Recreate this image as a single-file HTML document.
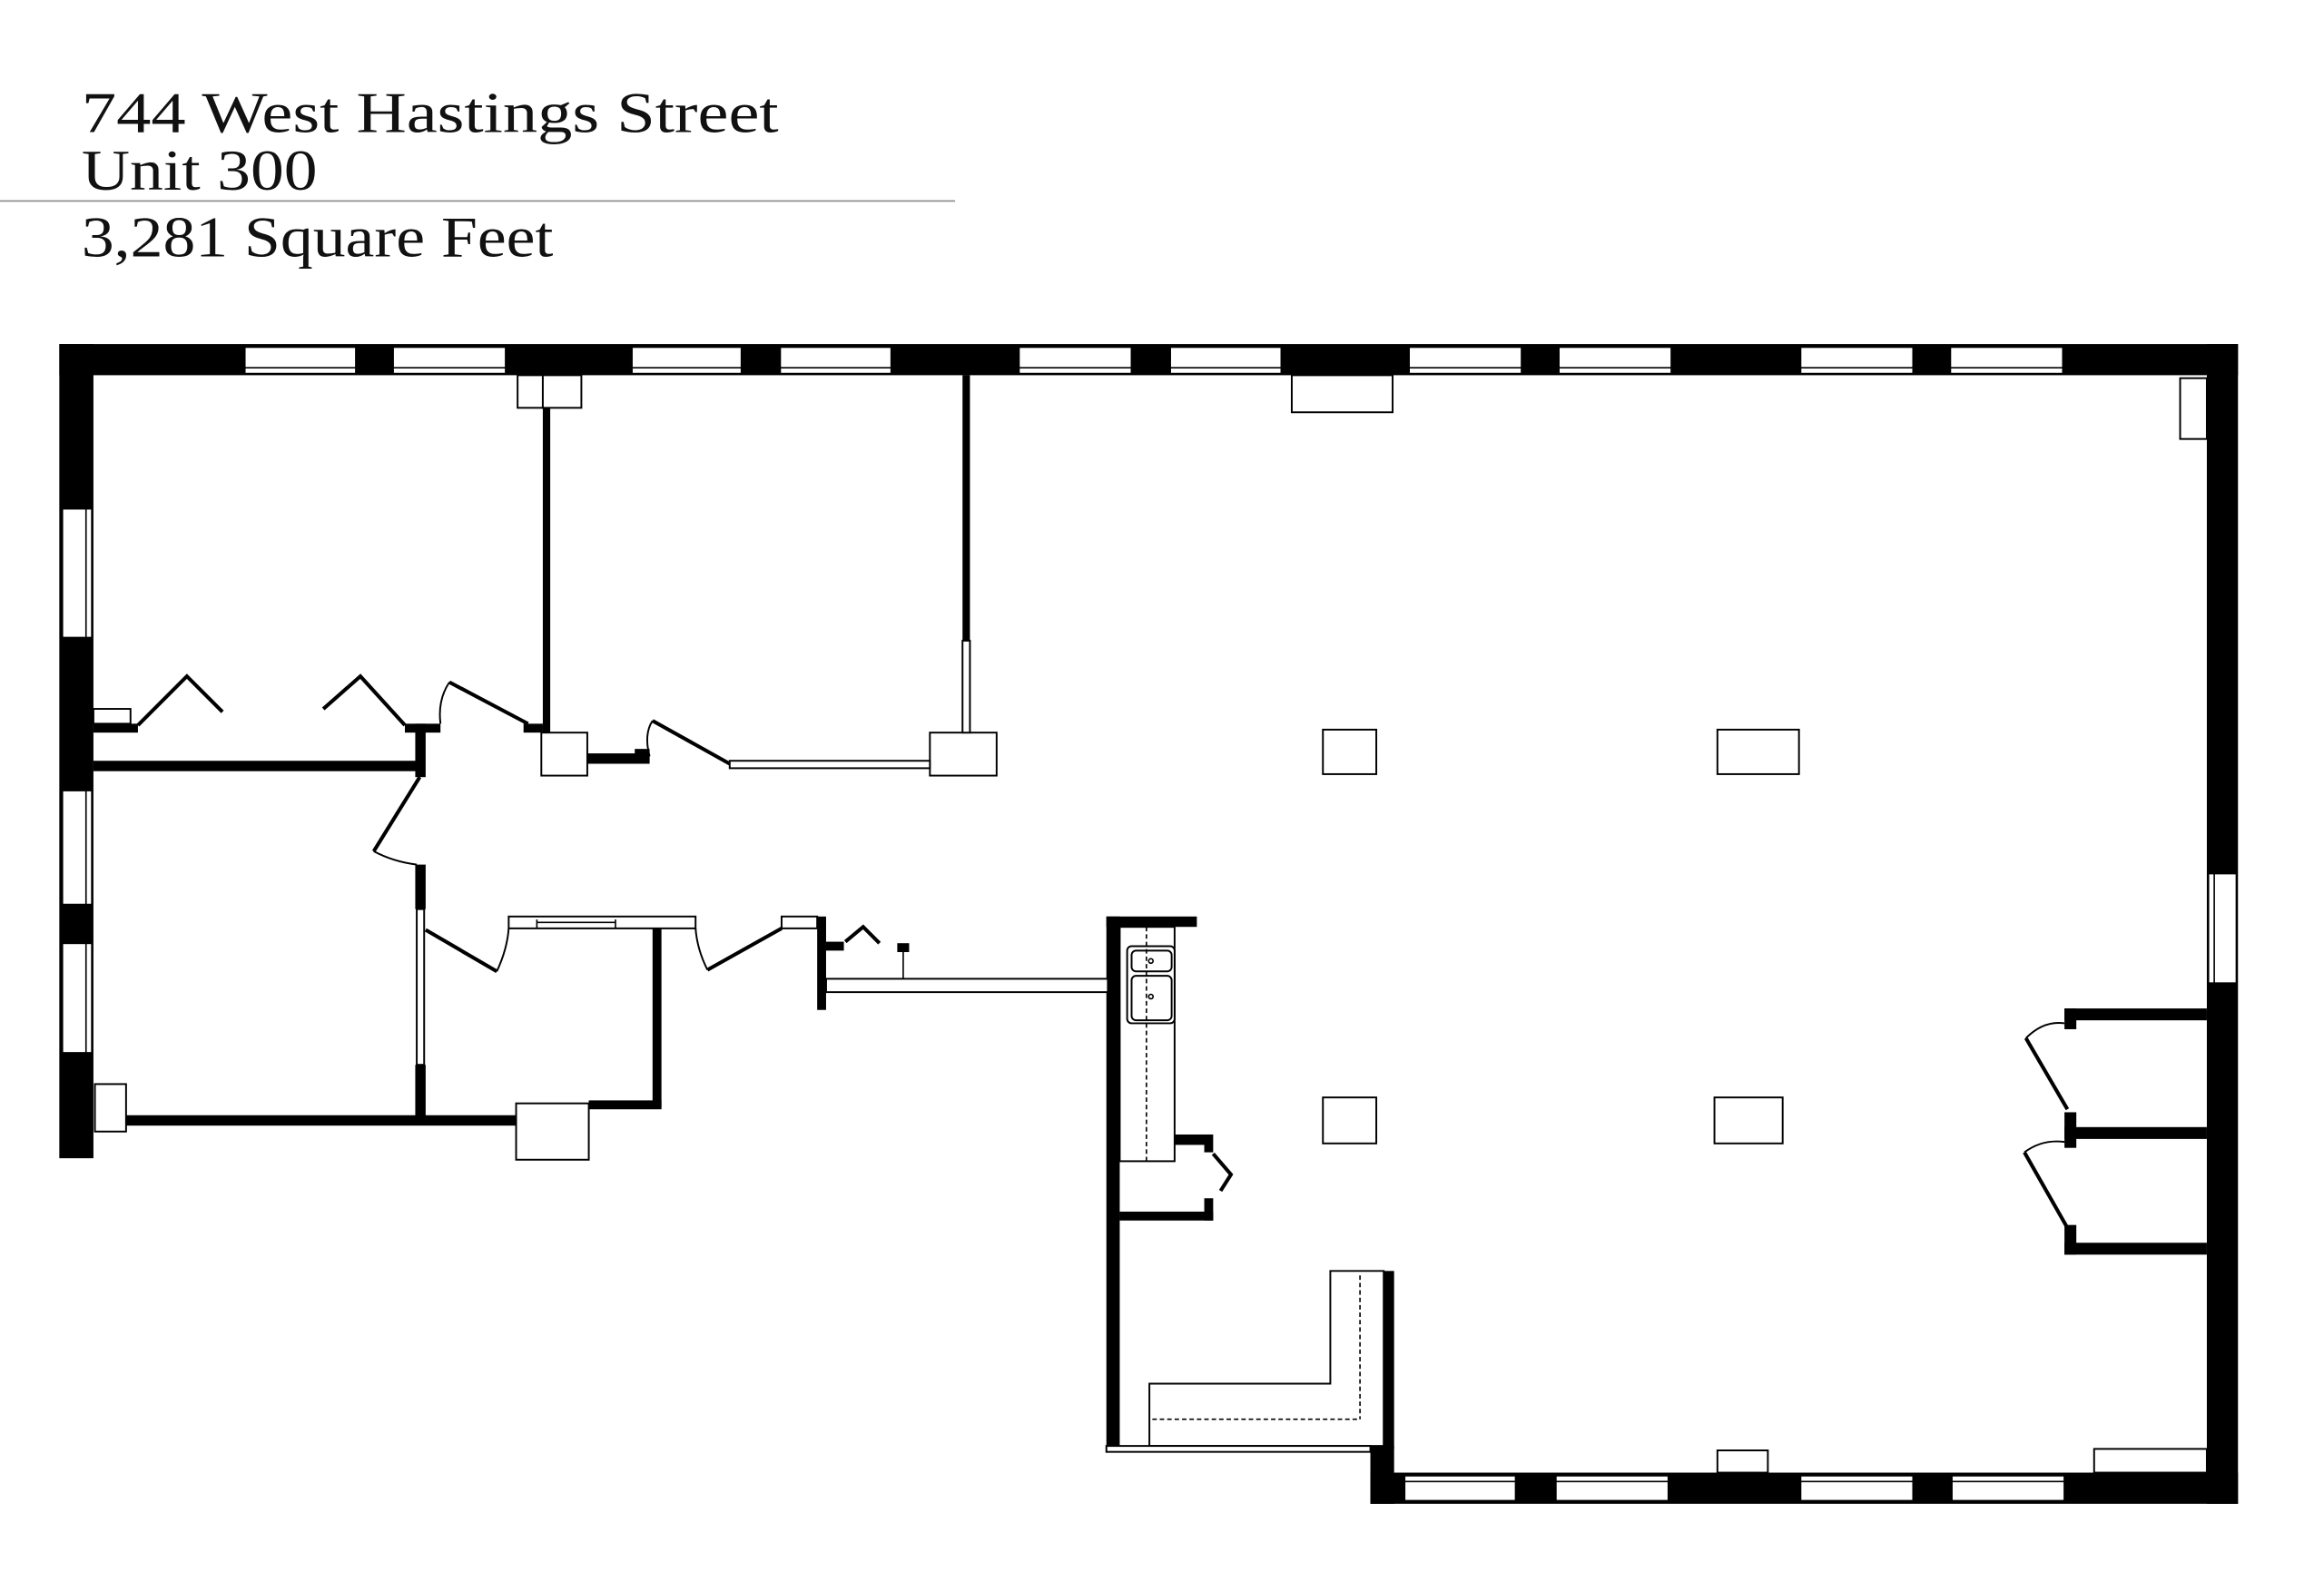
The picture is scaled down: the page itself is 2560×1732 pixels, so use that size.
<!DOCTYPE html>
<html><head><meta charset="utf-8"><style>
html,body{margin:0;padding:0;background:#fff;}
svg{display:block;}
text{font-family:"Liberation Serif",serif;fill:#111;}
</style></head><body>
<svg width="2560" height="1732" viewBox="0 0 1567 1060" preserveAspectRatio="none" xmlns="http://www.w3.org/2000/svg">
<rect width="1567" height="1060" fill="#fff"/>
<text x="55" y="89" font-size="39" textLength="470" lengthAdjust="spacingAndGlyphs" style="font-weight:500">744 West Hastings Street</text>
<text x="55" y="128" font-size="39" textLength="159" lengthAdjust="spacingAndGlyphs">Unit 300</text>
<line x1="0" y1="135.5" x2="644" y2="135.5" stroke="#888" stroke-width="1"/>
<text x="55" y="173" font-size="39" textLength="318" lengthAdjust="spacingAndGlyphs">3,281 Square Feet</text>

<g fill="#000">
<rect x="40" y="232" width="1469" height="21"/>
<rect x="40" y="232" width="23" height="549"/>
<rect x="1488" y="232" width="21" height="782"/>
<rect x="924" y="993" width="585" height="21"/>
<rect x="924" y="975" width="16" height="39"/>
<rect x="366" y="275" width="5" height="219"/>
<rect x="649" y="253" width="5" height="179"/>
<rect x="63" y="513" width="220" height="7"/>
<rect x="63" y="488" width="30" height="6"/>
<rect x="273" y="488" width="24" height="6"/>
<rect x="280" y="488" width="7" height="36"/>
<rect x="353" y="488" width="13" height="6"/>
<rect x="396" y="508" width="42" height="7"/>
<rect x="428" y="505" width="10" height="10"/>
<rect x="280" y="583" width="7" height="30"/>
<rect x="280" y="718" width="7" height="38"/>
<rect x="85" y="752" width="263" height="7"/>
<rect x="440" y="626" width="6" height="121"/>
<rect x="397" y="742" width="49" height="6"/>
<rect x="551" y="618" width="6" height="63"/>
<rect x="557" y="635" width="12" height="6"/>
<rect x="605" y="636" width="8" height="6"/>
<rect x="746" y="618" width="9" height="357"/>
<rect x="746" y="618" width="61" height="7"/>
<rect x="755" y="765" width="62" height="7"/>
<rect x="812" y="765" width="6" height="12"/>
<rect x="755" y="817" width="63" height="6"/>
<rect x="812" y="808" width="6" height="15"/>
<rect x="933" y="857" width="7" height="120"/>
<rect x="1392" y="680" width="96" height="8"/>
<rect x="1392" y="680" width="8" height="14"/>
<rect x="1392" y="760" width="96" height="8"/>
<rect x="1392" y="750" width="8" height="24"/>
<rect x="1392" y="838" width="96" height="8"/>
<rect x="1392" y="826" width="8" height="20"/>
</g>

<g fill="#fff" stroke="#000" stroke-width="1.2">
<rect x="165" y="234" width="75" height="18"/><rect x="265" y="234" width="76" height="18"/>
<rect x="426" y="234" width="74" height="18"/><rect x="526" y="234" width="75" height="18"/>
<rect x="687" y="234" width="76" height="18"/><rect x="789" y="234" width="75" height="18"/>
<rect x="950" y="234" width="76" height="18"/><rect x="1051" y="234" width="76" height="18"/>
<rect x="1214" y="234" width="76" height="18"/><rect x="1315" y="234" width="76" height="18"/>
<rect x="42" y="343" width="20" height="87"/><rect x="42" y="533" width="20" height="77"/><rect x="42" y="636" width="20" height="74"/>
<rect x="1489" y="589" width="19" height="74"/>
<rect x="947" y="995" width="75" height="17"/><rect x="1049" y="995" width="76" height="17"/>
<rect x="1214" y="995" width="76" height="17"/><rect x="1316" y="995" width="76" height="17"/>
<rect x="871" y="253" width="68" height="25"/>
<rect x="349" y="253" width="17" height="22"/><rect x="366" y="253" width="26" height="22"/>
<rect x="1470" y="255" width="18" height="41"/>
<rect x="892" y="492" width="36" height="30"/>
<rect x="1158" y="492" width="55" height="30"/>
<rect x="892" y="740" width="36" height="31"/>
<rect x="1156" y="740" width="46" height="31"/>
<rect x="365" y="494" width="31" height="29"/>
<rect x="627" y="494" width="45" height="29"/>
<rect x="64" y="731" width="21" height="32"/>
<rect x="348" y="744" width="49" height="38"/>
<rect x="1158" y="978" width="34" height="15"/>
<rect x="1412" y="977" width="76" height="16"/>
<rect x="63" y="478" width="25" height="10"/>
<rect x="343" y="618" width="126" height="8"/>
<rect x="527" y="618" width="24" height="8"/>
<rect x="557" y="660" width="190" height="9"/>
<rect x="755" y="625" width="37" height="158"/>
<rect x="760" y="638" width="32" height="52" rx="3"/>
<rect x="763" y="641" width="27" height="14" rx="3"/>
<rect x="763" y="658" width="27" height="30" rx="3"/>
<path d="M897 857 H933 V975 H775 V933 H897 Z"/>
<rect x="746" y="975" width="178" height="4"/>
<rect x="649" y="432" width="5" height="62"/>
<rect x="492" y="513" width="135" height="5"/>
<rect x="281" y="613" width="5" height="105"/>
</g>
<g fill="none" stroke="#000" stroke-width="1">
<line x1="165" y1="248" x2="240" y2="248"/><line x1="265" y1="248" x2="341" y2="248"/>
<line x1="426" y1="248" x2="500" y2="248"/><line x1="526" y1="248" x2="601" y2="248"/>
<line x1="687" y1="248" x2="763" y2="248"/><line x1="789" y1="248" x2="864" y2="248"/>
<line x1="950" y1="248" x2="1026" y2="248"/><line x1="1051" y1="248" x2="1127" y2="248"/>
<line x1="1214" y1="248" x2="1290" y2="248"/><line x1="1315" y1="248" x2="1391" y2="248"/>
<line x1="58" y1="343" x2="58" y2="430"/><line x1="58" y1="533" x2="58" y2="610"/><line x1="58" y1="636" x2="58" y2="710"/>
<line x1="1493" y1="589" x2="1493" y2="663"/>
<line x1="947" y1="999" x2="1022" y2="999"/><line x1="1049" y1="999" x2="1125" y2="999"/>
<line x1="1214" y1="999" x2="1290" y2="999"/><line x1="1316" y1="999" x2="1392" y2="999"/>
<line x1="362" y1="620" x2="362" y2="626"/><line x1="415" y1="620" x2="415" y2="626"/><line x1="362" y1="622" x2="415" y2="622"/>
<line x1="773" y1="625" x2="773" y2="783" stroke-dasharray="3,2"/>
<line x1="917" y1="860" x2="917" y2="957" stroke-dasharray="3,2"/>
<line x1="777" y1="957" x2="917" y2="957" stroke-dasharray="3,2"/>
<circle cx="776" cy="648" r="1.5"/><circle cx="776" cy="672" r="1.5"/>
<line x1="609" y1="642" x2="609" y2="660"/>
</g>
<g fill="none" stroke="#000" stroke-width="2.5">
<polyline points="93,489 126,456 150,480"/>
<polyline points="218,478 243,456 273,489"/>
<line x1="303" y1="460" x2="356" y2="488"/>
<line x1="440" y1="486" x2="492" y2="515"/>
<line x1="283" y1="524" x2="252" y2="574"/>
<line x1="287" y1="627" x2="335" y2="655"/>
<line x1="527" y1="626" x2="477" y2="654"/>
<polyline points="570,635 582,625 593,636"/>
<polyline points="818,778 830,792 823,803"/>
<line x1="1366" y1="700" x2="1394" y2="748"/>
<line x1="1365" y1="777" x2="1394" y2="828"/>
</g>
<g fill="none" stroke="#000" stroke-width="1.2">
<path d="M303 460 Q295 472 297 488"/>
<path d="M440 486 Q434 495 438 510"/>
<path d="M252 574 Q265 581 281 583"/>
<path d="M335 655 Q342 640 343 626"/>
<path d="M477 654 Q470 640 469 626"/>
<path d="M1366 700 Q1378 688 1392 690"/>
<path d="M1365 777 Q1377 768 1392 770"/>
</g>
</svg>
</body></html>
